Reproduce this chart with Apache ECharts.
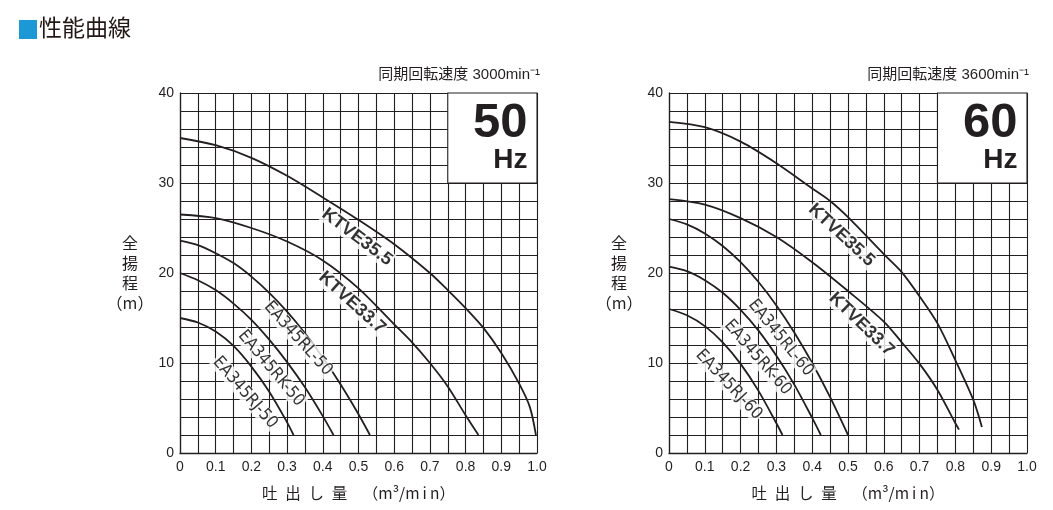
<!DOCTYPE html>
<html><head><meta charset="utf-8">
<script src="https://cdn.jsdelivr.net/npm/echarts@6/dist/echarts.min.js"></script>
<style>html,body{margin:0;padding:0;background:#fff;} #c{width:1053px;height:510px;}</style>
</head><body><div id="c"></div>
<script>
// ---------- tick labels ----------
const xTickLabels = ['0','0.1','0.2','0.3','0.4','0.5','0.6','0.7','0.8','0.9','1.0'];
const yTickLabels = ['0','10','20','30','40'];

// ---------- 50 Hz (3000 min-1) ----------
const q50_KTVE355 = [0,0.1,0.2,0.3,0.4,0.5,0.6,0.7,0.75,0.8,0.85,0.9,0.95,0.98,0.997];
const h50_KTVE355 = [35.0,34.2,32.8,30.8,28.4,25.9,23.2,20.0,18.1,16.1,13.9,11.1,7.7,5.1,2.0];
const q50_KTVE337 = [0,0.1,0.2,0.3,0.4,0.5,0.6,0.65,0.7,0.75,0.8,0.836];
const h50_KTVE337 = [26.5,26.1,25.0,23.5,21.4,18.3,14.3,12.3,10.0,7.4,4.2,2.0];
const q50_RL = [0,0.05,0.1,0.15,0.2,0.25,0.3,0.35,0.4,0.45,0.5,0.532];
const h50_RL = [23.6,23.1,22.2,21.1,19.6,17.8,15.7,13.3,10.6,7.6,4.3,2.0];
const q50_RK = [0,0.05,0.1,0.15,0.2,0.25,0.3,0.35,0.4,0.43];
const h50_RK = [20.0,19.2,18.1,16.6,14.8,12.6,10.1,7.3,4.1,2.0];
const q50_RJ = [0,0.05,0.1,0.15,0.2,0.25,0.3,0.318];
const h50_RJ = [15.0,14.5,13.5,11.9,9.6,6.8,3.4,2.0];

// ---------- 60 Hz (3600 min-1) ----------
const q60_KTVE355 = [0,0.1,0.2,0.3,0.4,0.45,0.5,0.6,0.65,0.7,0.75,0.8,0.85,0.874];
const h60_KTVE355 = [36.8,36.2,34.6,32.2,29.4,28.0,26.2,22.1,20.1,17.4,14.4,10.3,5.9,2.9];
const q60_KTVE337 = [0,0.1,0.2,0.3,0.4,0.5,0.6,0.65,0.7,0.75,0.8,0.81];
const h60_KTVE337 = [28.2,27.6,26.1,24.0,21.2,18.0,14.6,12.3,9.9,7.0,3.3,2.6];
const q60_RL = [0,0.05,0.1,0.15,0.2,0.25,0.3,0.35,0.4,0.45,0.5];
const h60_RL = [26.0,25.4,24.4,23.0,21.2,19.0,16.4,13.4,10.0,6.2,2.0];
const q60_RK = [0,0.05,0.1,0.15,0.2,0.25,0.3,0.35,0.4,0.424];
const h60_RK = [20.7,20.2,19.2,17.8,15.9,13.6,10.8,7.6,3.9,2.0];
const q60_RJ = [0,0.05,0.1,0.15,0.2,0.25,0.3,0.317];
const h60_RJ = [16.0,15.3,14.1,12.3,9.9,6.9,3.3,2.0];

// ---------- curve names ----------
const names50 = ['KTVE35.5','KTVE33.7','EA345RL-50','EA345RK-50','EA345RJ-50'];
const names60 = ['KTVE35.5','KTVE33.7','EA345RL-60','EA345RK-60','EA345RJ-60'];

// label placement (data coords + angle) - layout, not data
const labelLayout50 = [
  {at:[0.496,24.0], rot:-37, bold:true},
  {at:[0.482,16.7], rot:-42, bold:true},
  {at:[0.331,12.7], rot:-48, bold:false},
  {at:[0.255,9.4],  rot:-50, bold:false},
  {at:[0.182,6.7],  rot:-49, bold:false}
];
const labelLayout60 = [
  {at:[0.482,24.2], rot:-43, bold:true},
  {at:[0.538,14.3], rot:-44, bold:true},
  {at:[0.312,12.8], rot:-51, bold:false},
  {at:[0.248,10.6], rot:-49, bold:false},
  {at:[0.167,7.6],  rot:-47, bold:false}
];

const curves50 = [[q50_KTVE355,h50_KTVE355],[q50_KTVE337,h50_KTVE337],[q50_RL,h50_RL],[q50_RK,h50_RK],[q50_RJ,h50_RJ]];
const curves60 = [[q60_KTVE355,h60_KTVE355],[q60_KTVE337,h60_KTVE337],[q60_RL,h60_RL],[q60_RK,h60_RK],[q60_RJ,h60_RJ]];

const INK = '#231f20';
const FONT = '"Liberation Sans", Arial, "Noto Sans CJK JP", sans-serif';
const NARROW = '"Liberation Sans Narrow", "DejaVu Sans Condensed", "Liberation Sans", sans-serif';

function pairs(q,h){ return q.map((x,i)=>[x,h[i]]); }

function axes(idx){
  const x = {
    type:'value', gridIndex:idx, min:0, max:1, interval:0.05,
    axisLine:{show:true, lineStyle:{color:INK, width:1.3}},
    axisTick:{show:false},
    splitLine:{show:true, lineStyle:{color:INK, width:1.1}},
    axisLabel:{
      color:INK, fontSize:14, fontFamily:FONT, margin:7, showMinLabel:true, showMaxLabel:true,
      formatter:v=>{ const k=Math.round(v*20); return k%2===0 ? xTickLabels[k/2] : ''; }
    },
    name:'吐\u2002出\u2002し\u2002量\u2002\u2002（m³/m\u2009i\u2009n）',
    nameLocation:'middle', nameGap:32,
    nameTextStyle:{color:INK, fontSize:15.5, fontFamily:'"Noto Sans CJK JP", sans-serif'}
  };
  const y = {
    type:'value', gridIndex:idx, min:0, max:40, interval:2,
    axisLine:{show:true, lineStyle:{color:INK, width:1.3}},
    axisTick:{show:false},
    splitLine:{show:true, lineStyle:{color:INK, width:1.1}},
    axisLabel:{
      color:INK, fontSize:14, fontFamily:FONT, margin:6,
      formatter:v=>{ const k=Math.round(v/2); return k%5===0 ? yTickLabels[k/5] : ''; }
    },
    name:'全\n揚\n程\n（m）', nameLocation:'middle', nameRotate:0, nameGap: idx===0?50:47,
    nameTextStyle:{color:INK, fontSize:16, lineHeight:20, align:'center', verticalAlign:'middle',
      fontFamily:'"Noto Sans CJK JP", sans-serif'}
  };
  return [x,y];
}

function seriesFor(idx, curves, names, layout, hz){
  const out = [];
  curves.forEach((c,i)=>{
    const s = {
      type:'line', xAxisIndex:idx, yAxisIndex:idx, name:names[i]+'_'+hz,
      data:pairs(c[0],c[1]), showSymbol:false, smooth:0.3,
      lineStyle:{color:INK, width:1.8}, z:3, silent:true
    };
    if(i===0){
      s.markArea = {
        silent:true,
        itemStyle:{color:'#fff', borderColor:INK, borderWidth:1.1},
        label:{
          show:true, position:'insideTopRight', distance:0, padding:[10,10,0,0],
          formatter:'{a|'+hz+'}\n{b|Hz}',
          rich:{
            a:{fontSize:49, fontWeight:'bold', fontFamily:FONT, color:INK, lineHeight:42, align:'right'},
            b:{fontSize:28, fontWeight:'bold', fontFamily:FONT, color:INK, lineHeight:32, align:'right'}
          }
        },
        data:[[{coord:[0.75,30]},{coord:[1,40]}]]
      };
    }
    out.push(s);
  });
  out.push({
    type:'scatter', xAxisIndex:idx, yAxisIndex:idx, symbolSize:0, z:6, silent:true,
    data: layout.map((l,i)=>({
      value:l.at,
      label:{
        show:true, position:'inside', rotate:l.rot, formatter:names[i],
        color:'#000', backgroundColor:'#fff', padding:[0,1],
        fontSize: l.bold?18:17, fontWeight: l.bold?'bold':'normal',
        fontFamily: l.bold?FONT:NARROW
      }
    }))
  });
  return out;
}

const a0 = axes(0), a1 = axes(1);
const chart = echarts.init(document.getElementById('c'), null, {renderer:'canvas'});
chart.setOption({
  animation:false,
  backgroundColor:'#fff',
  grid:[
    {left:180, top:93, width:357, height:360},
    {left:669, top:93, width:358, height:360}
  ],
  xAxis:[a0[0], a1[0]],
  yAxis:[a0[1], a1[1]],
  series:[].concat(
    seriesFor(0, curves50, names50, labelLayout50, '50'),
    seriesFor(1, curves60, names60, labelLayout60, '60')
  ),
  graphic:[
    {type:'rect', left:19, top:20, shape:{width:18, height:19}, style:{fill:'#1b98d5'}},
    {type:'text', left:39, top:16, style:{text:'性能曲線', fontSize:23, fill:'#231815',
      fontFamily:'"Noto Sans CJK JP", sans-serif'}},
    {type:'text', right:513, top:67, style:{text:'同期回転速度 3000min⁻¹', fontSize:15, fill:INK,
      fontFamily:'"Liberation Sans", "Noto Sans CJK JP", sans-serif'}},
    {type:'text', right:24, top:67, style:{text:'同期回転速度 3600min⁻¹', fontSize:15, fill:INK,
      fontFamily:'"Liberation Sans", "Noto Sans CJK JP", sans-serif'}}
  ]
});
</script></body></html>
